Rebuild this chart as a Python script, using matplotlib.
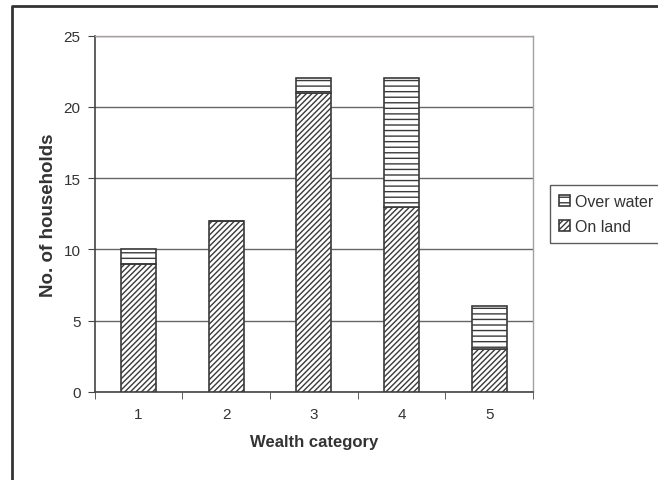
import numpy as np
import matplotlib.pyplot as plt
from matplotlib.lines import Line2D

plt.rcParams['font.family'] = ['Liberation Sans', 'DejaVu Sans']
plt.rcParams['hatch.linewidth'] = 1.0
plt.rcParams['hatch.color'] = '#3a3a3a'

# households per wealth category
categories = ['1', '2', '3', '4', '5']
on_land = [9, 12, 21, 13, 3]
over_water = [1, 0, 1, 9, 3]

W, H = 658, 481
fig = plt.figure(figsize=(W / 100, H / 100), dpi=100)
ax = fig.add_axes([94.5 / W, 1 - 393 / H, (533 - 94.5) / W, (393 - 36.7) / H])

x = np.arange(len(categories))
ax.bar(x, on_land, width=0.4, color='white', edgecolor='#3a3a3a',
       linewidth=1.2, hatch='//////', label='On land', zorder=3)
ax.bar(x, over_water, width=0.4, bottom=on_land, color='white',
       edgecolor='#3a3a3a', linewidth=1.2, hatch='---', label='Over water', zorder=3)

ax.set_xlim(-0.5, len(categories) - 0.5)
ax.set_ylim(0, 25)
ax.set_yticks(range(0, 26, 5))
ax.set_xticks(x)
ax.set_xticklabels(categories)
ax.set_xticks(np.arange(-0.5, len(categories)), minor=True)
ax.tick_params(axis='x', which='major', length=0, pad=11)
ax.tick_params(axis='x', which='minor', length=5, direction='out', color='#444444')
ax.tick_params(axis='y', length=5, direction='out', color='#444444', pad=5)
ax.tick_params(labelsize=11, labelcolor='#333333')

ax.yaxis.grid(True, color='#666666', linewidth=1.0, zorder=0)
ax.set_axisbelow(True)
for side in ['left', 'bottom']:
    ax.spines[side].set_color('#444444')
    ax.spines[side].set_linewidth(1.2)
for side in ['top', 'right']:
    ax.spines[side].set_color('#a8a0a0')
    ax.spines[side].set_linewidth(1.0)

ax.set_xlabel('Wealth category', fontsize=12, fontweight='bold', color='#333333', labelpad=9)
ax.set_ylabel('No. of households', fontsize=13.5, fontweight='bold', color='#333333', labelpad=5)

handles, labels = ax.get_legend_handles_labels()
leg = fig.legend(handles[::-1], labels[::-1], loc='upper left',
                 bbox_to_anchor=(550 / W, 1 - 186 / H), fontsize=11.5,
                 handlelength=0.7, handleheight=0.7, handletextpad=0.3,
                 borderpad=0.55, labelspacing=0.65, fancybox=False,
                 borderaxespad=0)
leg.get_frame().set_edgecolor('#333333')
leg.get_frame().set_linewidth(1.0)
for t in leg.get_texts():
    t.set_color('#333333')

# outer chart frame (top and left edges)
fig.add_artist(Line2D([12 / W, 12 / W, 1], [0, 1 - 7 / H, 1 - 7 / H],
                      transform=fig.transFigure, color='#333333', linewidth=2))

fig.savefig('out.png', dpi=100)
